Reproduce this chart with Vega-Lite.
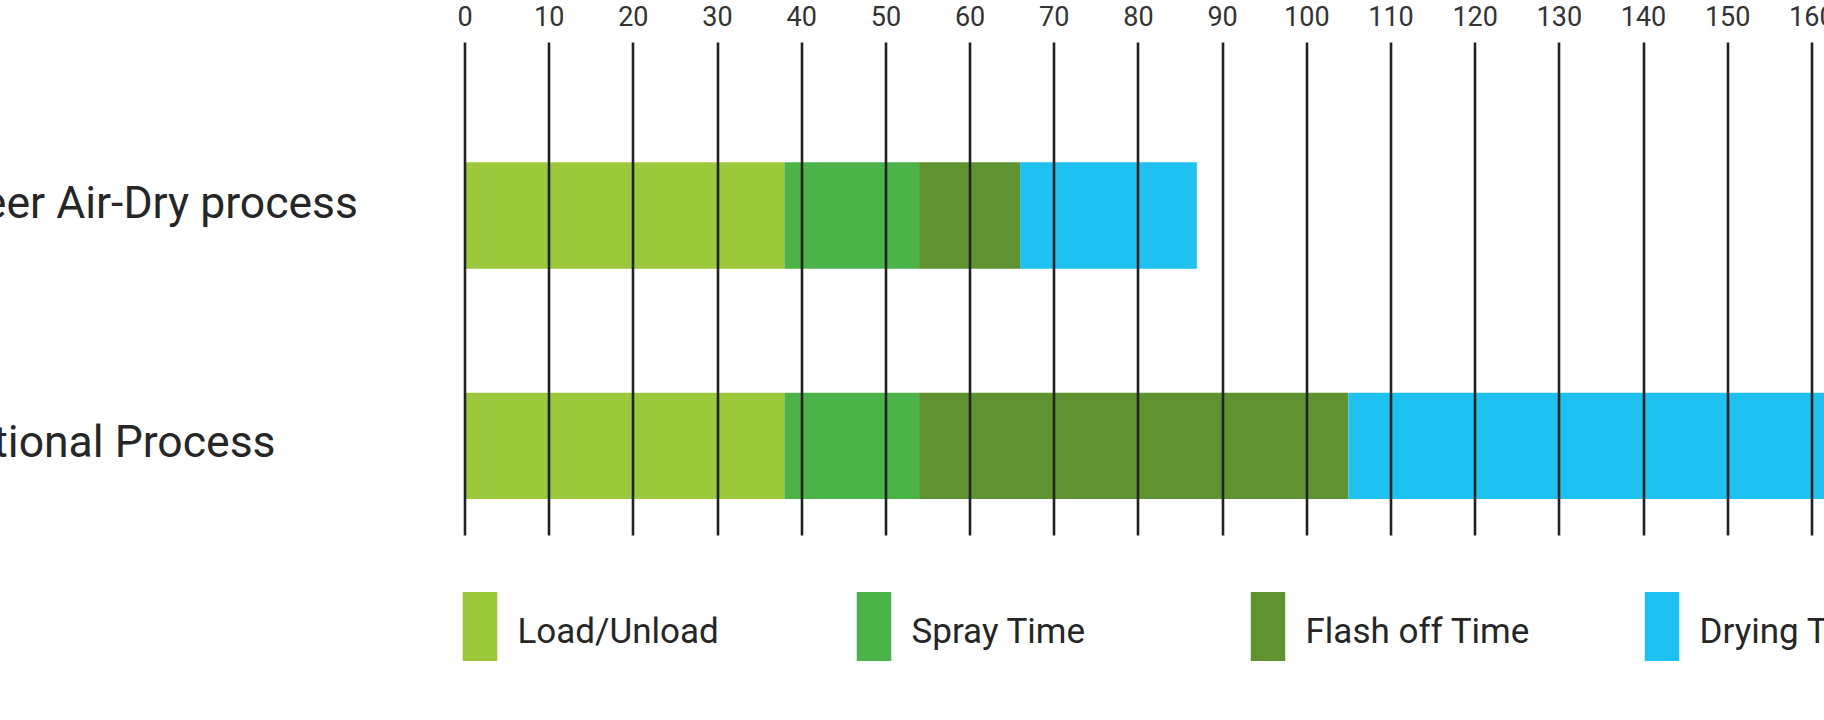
{
  "$schema": "https://vega.github.io/schema/vega-lite/v6.json",
  "width": 1359.5,
  "height": 493,
  "autosize": {"type": "none"},
  "padding": {"left": 464.5, "top": 42, "right": 0, "bottom": 185},
  "background": "white",
  "config": {"view": {"stroke": null}, "font": "Roboto"},
  "data": {"values": [
    {"process": "Pioneer Air-Dry process", "phase": "Load/Unload", "step": 1, "minutes": 38},
    {"process": "Pioneer Air-Dry process", "phase": "Spray Time", "step": 2, "minutes": 16},
    {"process": "Pioneer Air-Dry process", "phase": "Flash off Time", "step": 3, "minutes": 12},
    {"process": "Pioneer Air-Dry process", "phase": "Drying Time", "step": 4, "minutes": 21},
    {"process": "Traditional Process", "phase": "Load/Unload", "step": 1, "minutes": 38},
    {"process": "Traditional Process", "phase": "Spray Time", "step": 2, "minutes": 16},
    {"process": "Traditional Process", "phase": "Flash off Time", "step": 3, "minutes": 51},
    {"process": "Traditional Process", "phase": "Drying Time", "step": 4, "minutes": 75}
  ]},
  "mark": {"type": "bar", "clip": true},
  "encoding": {
    "y": {
      "field": "process", "type": "nominal", "sort": null,
      "scale": {"paddingInner": 0.538, "paddingOuter": 0.339, "align": 0.77},
      "axis": {
        "title": null, "domain": false, "ticks": false,
        "labelAlign": "left", "labelPadding": 571, "labelFontSize": 44.5,
        "labelColor": "#262626", "labelLimit": 0,
        "labelOffset": {"condition": {"test": "datum.value === 'Pioneer Air-Dry process'", "value": -10}, "value": -2}
      }
    },
    "x": {
      "field": "minutes", "type": "quantitative", "stack": "zero",
      "scale": {"domain": [0, 161.5], "nice": false},
      "axis": {
        "orient": "top", "title": null, "domain": false, "ticks": false,
        "values": [0, 10, 20, 30, 40, 50, 60, 70, 80, 90, 100, 110, 120, 130, 140, 150, 160],
        "grid": true, "gridColor": "#222222", "gridWidth": 2.6, "gridOpacity": 1,
        "labelFontSize": 27, "labelColor": "#333333", "labelPadding": 11,
        "labelFlush": false, "labelOverlap": false, "zindex": 1
      }
    },
    "order": {"field": "step", "type": "quantitative", "sort": "ascending"},
    "color": {
      "field": "phase", "type": "nominal",
      "sort": ["Load/Unload", "Spray Time", "Flash off Time", "Drying Time"],
      "scale": {
        "domain": ["Load/Unload", "Spray Time", "Flash off Time", "Drying Time"],
        "range": ["#9bc93b", "#4cb24a", "#5f9332", "#1fc1f0"]
      },
      "legend": {
        "title": null, "orient": "none", "legendX": -19, "legendY": 550,
        "direction": "horizontal", "columns": 4, "gridAlign": "all", "columnPadding": 97,
        "symbolType": "M-0.5,-1H0.5V1H-0.5Z", "symbolSize": 4761,
        "symbolStrokeWidth": 0, "symbolOpacity": 1,
        "labelFontSize": 35, "labelColor": "#262626", "labelOffset": 3, "labelLimit": 0,
        "encode": {"labels": {"update": {"dy": {"value": 5}}}}
      }
    }
  }
}
